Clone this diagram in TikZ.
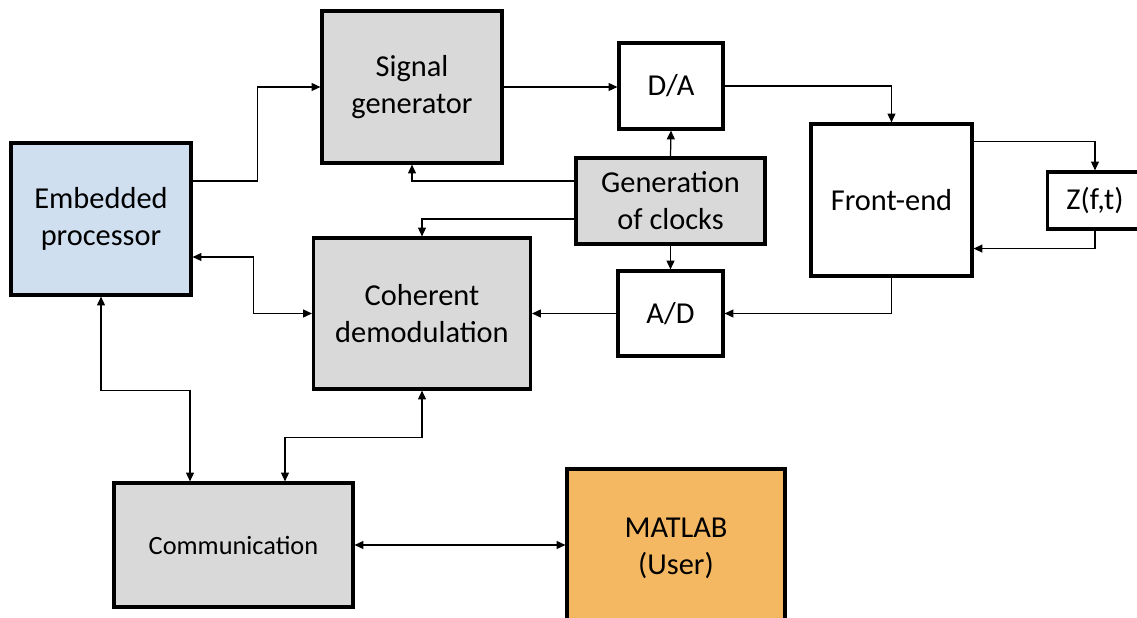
\documentclass[tikz,border=0pt]{standalone}
\usepackage{fontspec}
\setmainfont{Carlito}
\usetikzlibrary{arrows.meta,calc}

\definecolor{boxgrey}{HTML}{D9D9D9}
\definecolor{procblue}{HTML}{CFDFF0}
\definecolor{userorange}{HTML}{F4B862}

\begin{document}
\begin{tikzpicture}[x=0.02cm,y=-0.02cm,
        block/.style={draw,line width=1.8pt,align=center,inner sep=0pt,
          font=\fontsize{17.3}{21}\selectfont},
        wire/.style={line width=0.7pt,-{Triangle[length=5pt,width=4.5pt]}},
        bothwire/.style={line width=0.7pt,{Triangle[length=5pt,width=4.5pt]}-{Triangle[length=5pt,width=4.5pt]}}]
        \clip (0,0) rectangle (1137,618);

        % Blocks
        \node[block,fill=procblue,minimum width=3.6cm,minimum height=3.04cm] (emb) at (101,219) {Embedded\\processor};
        \node[block,fill=boxgrey,minimum width=3.6cm,minimum height=3.04cm] (sig) at (412,87) {Signal\\generator};
        \node[block,fill=white,minimum width=2.08cm,minimum height=1.72cm] (da) at (671,86) {D/A};
        \node[block,fill=boxgrey,minimum width=3.78cm,minimum height=1.72cm] (clk) at (670.5,201) {Generation\\of clocks};
        \node[block,fill=white,minimum width=3.22cm,minimum height=3.04cm] (fe) at (891.5,200) {Front-end};
        \node[block,fill=white,minimum width=1.9cm,minimum height=1.14cm] (z) at (1095,200.5) {Z(f,t)};
        \node[block,fill=boxgrey,minimum width=4.34cm,minimum height=3.02cm] (coh) at (422,313.5) {Coherent\\demodulation};
        \node[block,fill=white,minimum width=2.1cm,minimum height=1.7cm] (ad) at (670.5,313.5) {A/D};
        \node[block,fill=boxgrey,minimum width=4.78cm,minimum height=2.48cm,font=\fontsize{15}{20}\selectfont] (comm) at (233.5,545) {Communication};
        \node[block,fill=userorange,minimum width=4.36cm,minimum height=3.16cm] (mat) at (676,548) {MATLAB\\(User)};

        % Transmit chain
        \draw[wire] ($(emb.east)+(0,-38)$) -- ++(65,0) |- (sig.west);
        \draw[wire] (sig.east) -- (sig.east -| da.west);
        \draw[wire] (da.east) -| (fe.north);
        \draw[wire] ($(fe.north east)+(0,19)$) -| (z.north);
        \draw[wire] (z.south) |- ($(fe.south east)+(0,-29)$);

        % Receive chain
        \draw[wire] (fe.south) |- (ad.east);
        \draw[wire] (ad.west) -- (coh.east);

        % Clocks
        \draw[wire] (clk.north) -- (da.south);
        \draw[wire] (clk.south) -- (ad.north);
        \draw[wire] ($(clk.west)+(0,-20)$) -| (sig.south);
        \draw[wire] ($(clk.west)+(0,18)$) -| (coh.north);

        % Processor and communication
        \draw[bothwire] ($(emb.east)+(0,38)$) -- ++(61,0) |- (coh.west);
        \draw[bothwire] (emb.south) -- ++(0,94) -| ($(comm.north)+(-43.5,0)$);
        \draw[bothwire] (coh.south) -- ++(0,47) -| ($(comm.north)+(51.5,0)$);
        \draw[bothwire] (comm.east) -- (comm.east -| mat.west);
\end{tikzpicture}
\end{document}
